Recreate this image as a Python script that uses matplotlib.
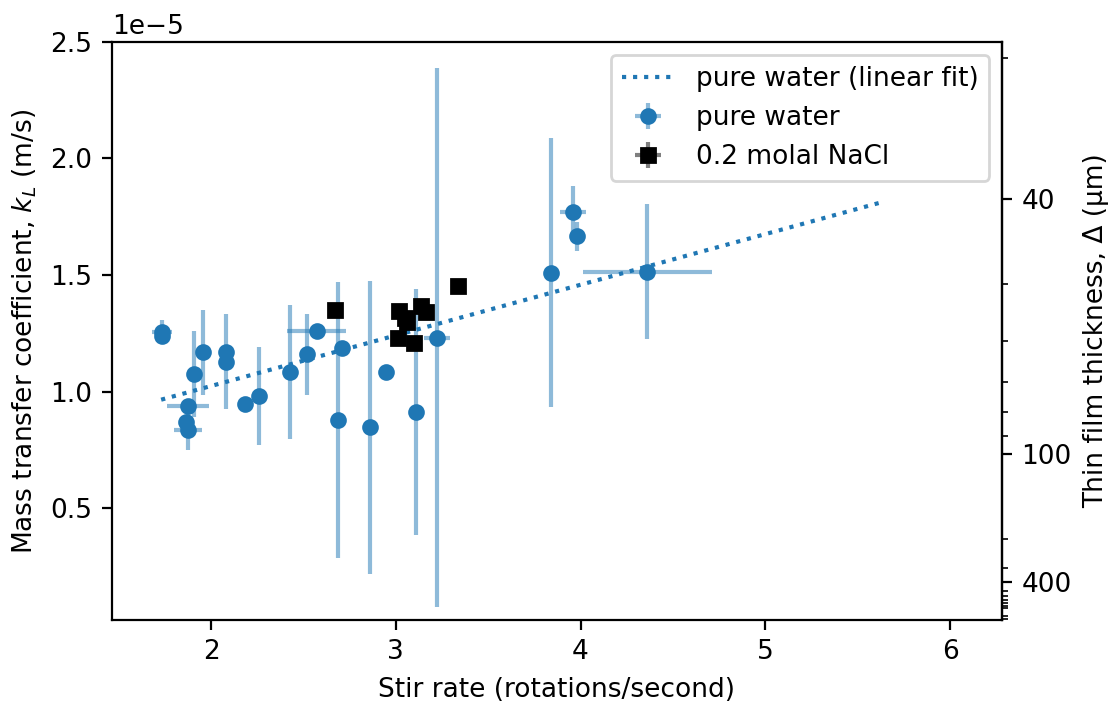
import matplotlib
matplotlib.use("Agg")
import matplotlib.pyplot as plt
from matplotlib.colors import to_rgba
from matplotlib.ticker import FixedLocator, LogLocator, NullFormatter
import numpy as np

# pure water runs: stir rate (rot/s), kL (1e-5 m/s) and their errors
water_x = [1.733, 1.733, 1.908, 1.958, 2.083, 2.083, 1.876, 1.866, 1.877,
           2.186, 2.260, 2.426, 2.572, 2.521, 2.711, 2.689, 2.859, 2.949,
           3.109, 3.221, 3.842, 3.959, 3.982, 4.361]
water_kl = [1.255, 1.237, 1.075, 1.168, 1.168, 1.128, 0.937, 0.870, 0.835,
            0.945, 0.982, 1.085, 1.260, 1.159, 1.188, 0.878, 0.846, 1.085,
            0.911, 1.231, 1.510, 1.769, 1.667, 1.514]
water_xerr = [0.054, 0.03, 0.0, 0.0, 0.0, 0.0, 0.112, 0.0, 0.076,
              0.02, 0.0, 0.0, 0.16, 0.0, 0.0, 0.0, 0.0, 0.0,
              0.0, 0.07, 0.035, 0.072, 0.0, 0.35]
water_kl_err = [0.05, 0.03, 0.185, 0.182, 0.0, 0.204, 0.0, 0.0, 0.086,
                0.0, 0.21, 0.288, 0.0, 0.172, 0.0, 0.592, 0.627, 0.0,
                0.528, 1.157, 0.577, 0.112, 0.062, 0.29]

# 0.2 molal NaCl runs
nacl_x = [2.671, 3.017, 3.050, 3.061, 3.135, 3.162, 3.013, 3.098, 3.338]
nacl_kl = [1.350, 1.345, 1.315, 1.298, 1.367, 1.343, 1.228, 1.207, 1.453]
nacl_xerr = [0.02] * len(nacl_x)
nacl_kl_err = [0.02] * len(nacl_x)

# linear fit of pure water (kL in 1e-5 m/s)
fit_slope = 0.2173
fit_intercept = 0.589
fit_x = [1.73, 5.62]

D = 7.3e-10  # m^2/s, kL = D / delta


def kl_to_delta(k):
    k = np.asarray(k, dtype=float)
    with np.errstate(divide="ignore", invalid="ignore"):
        return D / k * 1e6


def delta_to_kl(d):
    d = np.asarray(d, dtype=float)
    with np.errstate(divide="ignore", invalid="ignore"):
        return D / (d * 1e-6)


plt.rcParams["font.size"] = 9.5
scale = 1e-5
fig = plt.figure(figsize=(5.555, 3.505), dpi=200)
ax = fig.add_axes([0.1008, 0.1155, 0.8011, 0.8246])

fx = np.array(fit_x)
ax.plot(fx, (fit_slope * fx + fit_intercept) * scale, ":", color="C0",
        label="pure water (linear fit)")

ax.errorbar(water_x, np.array(water_kl) * scale, xerr=water_xerr,
            yerr=np.array(water_kl_err) * scale, fmt="o", ms=5, color="C0",
            ecolor=to_rgba("C0", 0.5), elinewidth=1.5, label="pure water")
ax.errorbar(nacl_x, np.array(nacl_kl) * scale, xerr=nacl_xerr,
            yerr=np.array(nacl_kl_err) * scale, fmt="s", ms=5, color="black",
            ecolor=to_rgba("black", 0.5), elinewidth=1.5,
            label="0.2 molal NaCl")

ax.set_xlim(1.464, 6.281)
ax.set_ylim(0.0193e-5, 2.5e-5)
ax.set_xlabel("Stir rate (rotations/second)")
ax.set_ylabel("Mass transfer coefficient, $k_L$ (m/s)")
ax.legend(loc="upper right")

sec = ax.secondary_yaxis("right", functions=(kl_to_delta, delta_to_kl))
sec.yaxis.set_major_locator(FixedLocator([40, 100, 400]))
sec.yaxis.set_minor_locator(LogLocator(base=10, subs=np.arange(1, 10), numticks=20))
sec.yaxis.set_minor_formatter(NullFormatter())
sec.set_ylabel("Thin film thickness, Δ (μm)")

fig.savefig("out.png", dpi=200)
